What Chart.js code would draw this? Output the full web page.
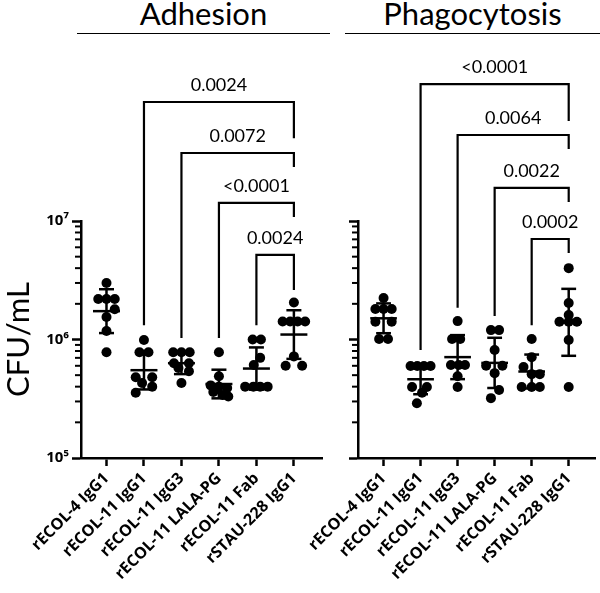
<!DOCTYPE html>
<html>
<head>
<meta charset="utf-8">
<script src="https://cdn.jsdelivr.net/npm/chart.js@4.4.0/dist/chart.umd.min.js"></script>
<style>
  html, body { margin: 0; padding: 0; background: #fff; }
  #wrap { position: relative; width: 600px; height: 593px; overflow: hidden; }
  .panel { position: absolute; top: 0; height: 593px; }
  .head { position: absolute; top: -2px; height: 35px; border-bottom: 1.5px solid #000;
          font: 31px Lato, sans-serif; text-align: center; line-height: 30px; color: #000; }
</style>
</head>
<body>
<div id="wrap">
  <div class="head" style="left:77px;width:253px">Adhesion</div>
  <div class="head" style="left:345px;width:255px">Phagocytosis</div>
  <div class="panel" style="left:0;width:330px"><canvas id="adh"></canvas></div>
  <div class="panel" style="left:250px;width:350px"><canvas id="pha"></canvas></div>
</div>
<script>
const groups = ['rECOL-4 IgG1', 'rECOL-11 IgG1', 'rECOL-11 IgG3', 'rECOL-11 LALA-PG', 'rECOL-11 Fab', 'rSTAU-228 IgG1'];
const yTickLabels = ['10⁵', '10⁶', '10⁷'];

// CFU/mL, one array per group
const adhesion = [
  [3.0e6, 2.2e6, 2.2e6, 2.2e6, 1.8e6, 1.55e6, 1.18e6, 7.8e5],
  [9.9e5, 7.8e5, 7.8e5, 4.8e5, 4.8e5, 4.3e5, 4.0e5, 3.55e5],
  [7.8e5, 7.8e5, 7.8e5, 6.3e5, 6.3e5, 5.75e5, 5.4e5, 4.3e5],
  [7.8e5, 4.9e5, 4.1e5, 4.0e5, 3.9e5, 3.6e5, 3.4e5, 3.3e5],
  [1.0e6, 1.0e6, 7.0e5, 6.1e5, 4.0e5, 4.0e5, 4.0e5, 4.0e5],
  [2.05e6, 1.42e6, 1.42e6, 1.42e6, 1.42e6, 7.2e5, 6.0e5, 6.0e5]
];
// horizontal scatter of the dots (in group widths)
const adhesionJitter = [
  [0, -0.22, 0, 0.22, 0.22, 0, 0, 0],
  [0, -0.12, 0.12, -0.22, 0.22, -0.05, 0.22, -0.22],
  [-0.22, 0, 0.22, -0.2, 0.2, -0.08, 0.2, 0],
  [0, 0, -0.22, 0, 0.22, -0.15, 0.1, 0.25],
  [-0.1, 0.12, 0.1, -0.07, -0.3, -0.08, 0.1, 0.3],
  [0, -0.3, -0.1, 0.1, 0.3, 0, -0.22, 0.22]
];

const phagocytosis = [
  [2.24e6, 1.81e6, 1.81e6, 1.81e6, 1.41e6, 1.41e6, 1.01e6, 1.01e6],
  [5.97e5, 5.97e5, 5.97e5, 5.97e5, 3.98e5, 3.98e5, 3.55e5, 2.9e5],
  [1.43e6, 1.01e6, 1.01e6, 6.1e5, 6.1e5, 6.1e5, 4.9e5, 3.98e5],
  [1.2e6, 1.2e6, 8.15e5, 6.0e5, 6.0e5, 5.2e5, 3.75e5, 3.2e5],
  [1.01e6, 7.1e5, 5.87e5, 5.1e5, 5.1e5, 3.98e5, 3.98e5, 3.98e5],
  [4.0e6, 2.03e6, 1.61e6, 1.41e6, 1.41e6, 1.41e6, 9.9e5, 3.98e5]
];
const phagocytosisJitter = [
  [0, -0.22, 0, 0.22, -0.22, 0.22, -0.12, 0.12],
  [-0.27, -0.09, 0.09, 0.27, -0.23, 0.17, 0.04, -0.1],
  [0, -0.15, 0.07, -0.18, 0.03, 0.2, 0, 0],
  [-0.1, 0.12, 0, -0.23, 0.21, 0, 0.12, -0.1],
  [0, 0, -0.22, 0, 0.22, -0.27, 0, 0.22],
  [0, 0, 0, -0.25, 0, 0.22, 0, 0]
];

// comparison brackets: left group, right group, bar level, leg ends (CFU/mL), p value
const adhBrFrom = [1, 2, 3, 4];
const adhBrTo = [5, 5, 5, 5];
const adhBrLevel = [1.01e8, 3.75e7, 1.42e7, 5.17e6];
const adhBrLeftEnd = [1.32e6, 1.03e6, 1.03e6, 1.32e6];
const adhBrRightEnd = [5.0e7, 2.86e7, 1.08e7, 2.62e6];
const adhP = ['0.0024', '0.0072', '<0.0001', '0.0024'];

const phaBrFrom = [1, 2, 3, 4];
const phaBrTo = [5, 5, 5, 5];
const phaBrLevel = [1.43e8, 5.32e7, 1.9e7, 7.05e6];
const phaBrLeftEnd = [8.15e5, 1.85e6, 1.58e6, 1.32e6];
const phaBrRightEnd = [6.98e7, 4.06e7, 1.45e7, 5.37e6];
const phaP = ['<0.0001', '0.0064', '0.0022', '0.0002'];

function line(ctx, x1, y1, x2, y2) {
    ctx.beginPath();
    ctx.moveTo(x1, y1);
    ctx.lineTo(x2, y2);
    ctx.stroke();
}

// geometric mean +/- geometric SD, brackets, minor y ticks
const extras = {
    id: 'extras',
    afterDatasetsDraw(chart, args, opts) {
        const ctx = chart.ctx;
        const x = chart.scales.x, y = chart.scales.y;
        ctx.save();
        ctx.strokeStyle = '#000';
        ctx.lineWidth = 2.5;
        opts.values.forEach((vals, g) => {
            const logs = vals.map(v => Math.log10(v));
            const m = logs.reduce((a, b) => a + b, 0) / logs.length;
            const sd = Math.sqrt(logs.reduce((a, b) => a + (b - m) ** 2, 0) / (logs.length - 1));
            const cx = x.getPixelForValue(g);
            const ym = y.getPixelForValue(10 ** m);
            const yHi = y.getPixelForValue(10 ** (m + sd));
            const yLo = y.getPixelForValue(10 ** (m - sd));
            line(ctx, cx, yHi, cx, yLo);
            line(ctx, x.getPixelForValue(g - 0.36), ym, x.getPixelForValue(g + 0.36), ym);
            line(ctx, x.getPixelForValue(g - 0.2), yHi, x.getPixelForValue(g + 0.2), yHi);
            line(ctx, x.getPixelForValue(g - 0.2), yLo, x.getPixelForValue(g + 0.2), yLo);
        });
        ctx.restore();
    },
    afterDraw(chart, args, opts) {
        const ctx = chart.ctx;
        const x = chart.scales.x, y = chart.scales.y;
        ctx.save();
        ctx.strokeStyle = '#000';
        ctx.fillStyle = '#000';
        ctx.lineWidth = 2.2;
        ctx.lineJoin = 'miter';
        const b = opts.brackets;
        b.from.forEach((f, i) => {
            const x1 = x.getPixelForValue(f), x2 = x.getPixelForValue(b.to[i]);
            const yl = y.getPixelForValue(b.level[i]);
            ctx.beginPath();
            ctx.moveTo(x1, y.getPixelForValue(b.leftEnd[i]));
            ctx.lineTo(x1, yl);
            ctx.lineTo(x2, yl);
            ctx.lineTo(x2, y.getPixelForValue(b.rightEnd[i]));
            ctx.stroke();
            ctx.font = '18px Lato';
            ctx.textAlign = 'center';
            ctx.textBaseline = 'alphabetic';
            ctx.fillText(b.p[i], (x1 + x2) / 2, yl - 11);
        });
        // short minor ticks on the log axis
        ctx.lineWidth = 2;
        const x0 = chart.chartArea.left;
        y.ticks.forEach(t => {
            if (!t.major) {
                const py = y.getPixelForValue(t.value);
                line(ctx, x0 - 6, py, x0, py);
            }
        });
        ctx.restore();
    }
};

function makePanel(id, values, jitter, brackets, showYLabels, yWidth, padRight) {
    const pts = [];
    values.forEach((vals, g) => {
        vals.forEach((v, i) => pts.push({ x: g + jitter[g][i], y: v }));
    });
    const first = showYLabels ? -0.68 : -0.69;
    const last = showYLabels ? 5.75 : 5.71;
    return new Chart(document.getElementById(id), {
        type: 'scatter',
        data: {
            datasets: [{
                data: pts,
                pointRadius: 5,
                pointBackgroundColor: '#000',
                pointBorderWidth: 0
            }]
        },
        options: {
            responsive: true,
            maintainAspectRatio: false,
            animation: false,
            events: [],
            layout: { padding: { top: 221, right: padRight, bottom: 0, left: 0 } },
            plugins: {
                legend: { display: false },
                tooltip: { enabled: false },
                extras: { values: values, brackets: brackets }
            },
            scales: {
                x: {
                    type: 'linear',
                    min: first,
                    max: last,
                    afterBuildTicks: s => { s.ticks = groups.map((_, i) => ({ value: i })); },
                    afterFit: s => { s.height = 135; s.paddingLeft = 0; s.paddingRight = 0; },
                    ticks: {
                        autoSkip: false,
                        maxRotation: 45,
                        minRotation: 45,
                        padding: 3,
                        color: '#000',
                        font: { family: 'Open Sans', weight: 'bold', size: 16 },
                        callback: (v, i) => groups[i]
                    },
                    grid: { drawOnChartArea: false, color: '#000', tickColor: '#000', tickLength: 8, tickWidth: 2.5 },
                    border: { color: '#000', width: 2.5 }
                },
                y: {
                    type: 'logarithmic',
                    min: 1e5,
                    max: 1e7,
                    afterBuildTicks: s => {
                        const t = [];
                        for (let e = 5; e <= 7; e++) {
                            for (let k = 1; k <= 9; k++) {
                                const v = k * Math.pow(10, e);
                                if (v <= 1e7) t.push({ value: v, major: k === 1 });
                            }
                        }
                        s.ticks = t;
                    },
                    afterFit: s => { s.width = yWidth; },
                    ticks: {
                        autoSkip: false,
                        padding: 3,
                        color: '#000',
                        font: { family: 'Open Sans', weight: 'bold', size: 15 },
                        callback: (v, i, ticks) => {
                            if (!showYLabels || !ticks[i].major) return '';
                            return yTickLabels[Math.round(Math.log10(v)) - 5];
                        }
                    },
                    grid: {
                        drawOnChartArea: false,
                        color: '#000',
                        tickLength: 9,
                        tickWidth: 2.5,
                        tickColor: c => (c.tick && c.tick.major) ? '#000' : 'rgba(0,0,0,0)'
                    },
                    border: { color: '#000', width: 2.5 },
                    title: {
                        display: showYLabels,
                        text: 'CFU/mL',
                        color: '#000',
                        font: { family: 'Lato', size: 31 },
                        padding: { top: 0, bottom: 0 }
                    }
                }
            }
        },
        plugins: [extras]
    });
}

makePanel('adh', adhesion, adhesionJitter, {
    from: adhBrFrom, to: adhBrTo, level: adhBrLevel,
    leftEnd: adhBrLeftEnd, rightEnd: adhBrRightEnd, p: adhP
}, true, 81, 8);

makePanel('pha', phagocytosis, phagocytosisJitter, {
    from: phaBrFrom, to: phaBrTo, level: phaBrLevel,
    leftEnd: phaBrLeftEnd, rightEnd: phaBrRightEnd, p: phaP
}, false, 108, 0);
</script>
</body>
</html>
